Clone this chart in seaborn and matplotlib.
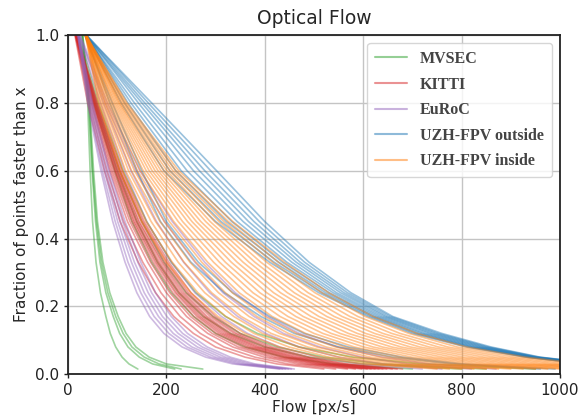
import matplotlib
matplotlib.use("Agg")
import matplotlib.pyplot as plt
from matplotlib.lines import Line2D
import seaborn as sns
import pandas as pd

# Fraction levels at which the flow value of each curve was read
levels = [1.0, 0.8, 0.6, 0.45, 0.33, 0.24, 0.17, 0.12, 0.08, 0.05, 0.03, 0.015]

datasets = ["MVSEC", "KITTI", "EuRoC", "UZH-FPV outside", "UZH-FPV inside"]
colors = ["#2ca02c", "#d62728", "#9467bd", "#1f77b4", "#ff7f0e"]

# Flow [px/s] where each curve crosses the fraction levels above
mvsec = [
    [28, 40, 45, 50, 57, 66, 77, 86, 97, 110, 124, 142],
    [30, 42, 49, 56, 65, 77, 92, 105, 122, 145, 172, 217],
    [30, 44, 52, 60, 71, 85, 102, 118, 138, 165, 200, 274],
    [29, 43, 50, 58, 68, 81, 97, 112, 130, 155, 185, 230],
    [18, 52, 95, 130, 170, 210, 255, 300, 360, 440, 540, 700],
    [20, 58, 105, 150, 195, 240, 295, 350, 425, 520, 640, 850],
    [19, 55, 100, 140, 182, 225, 275, 330, 400, 490, 600, 800],
    [22, 62, 112, 160, 210, 260, 320, 385, 470, 580, 720, 950],
]
kitti = [
    [14, 40, 74, 106, 143, 178, 215, 255, 300, 360, 425, 520],
    [15, 43, 79, 113, 152, 189, 228, 269, 317, 380, 447, 544],
    [15, 46, 85, 121, 162, 200, 241, 284, 335, 399, 469, 568],
    [16, 48, 88, 126, 168, 207, 249, 293, 346, 412, 483, 584],
    [16, 50, 91, 130, 173, 213, 256, 301, 355, 422, 495, 597],
    [16, 51, 94, 133, 177, 218, 262, 307, 363, 432, 505, 608],
    [16, 52, 96, 135, 180, 221, 266, 312, 369, 438, 512, 616],
    [17, 53, 97, 138, 183, 225, 270, 317, 375, 445, 519, 624],
    [17, 54, 99, 140, 186, 228, 275, 322, 381, 451, 527, 632],
    [17, 55, 101, 143, 190, 232, 279, 326, 386, 458, 534, 640],
    [17, 56, 103, 145, 193, 236, 283, 331, 392, 464, 541, 648],
    [17, 57, 105, 149, 197, 241, 289, 338, 400, 473, 551, 659],
    [18, 59, 107, 152, 201, 245, 294, 343, 407, 481, 560, 669],
    [18, 60, 110, 155, 205, 250, 300, 350, 415, 490, 570, 680],
]
euroc = [
    [20, 40, 67, 91, 116, 140, 166, 195, 232, 280, 335, 430],
    [20, 42, 70, 96, 122, 148, 175, 205, 242, 290, 344, 436],
    [21, 44, 74, 101, 129, 155, 184, 214, 252, 300, 353, 442],
    [21, 46, 77, 106, 135, 163, 192, 224, 263, 310, 362, 448],
    [22, 48, 81, 111, 142, 170, 201, 233, 273, 320, 371, 454],
    [22, 50, 84, 116, 148, 178, 210, 243, 283, 330, 380, 460],
    [24, 72, 128, 180, 235, 288, 345, 402, 470, 550, 640, 760],
    [23, 76, 138, 196, 258, 315, 378, 438, 512, 598, 690, 820],
    [25, 80, 146, 212, 278, 340, 405, 470, 548, 640, 735, 870],
    [22, 66, 115, 160, 210, 258, 312, 365, 430, 508, 595, 720],
]
uzh_outside = [
    [36, 108, 195, 300, 410, 510, 610, 700, 810, 930, 1050, 1250],
    [36, 115, 207, 311, 419, 517, 616, 707, 816, 933, 1053, 1253],
    [37, 122, 219, 322, 428, 524, 621, 713, 821, 937, 1057, 1257],
    [36, 128, 230, 333, 436, 531, 626, 720, 826, 940, 1060, 1260],
    [35, 135, 242, 344, 445, 539, 632, 726, 832, 943, 1063, 1263],
    [37, 143, 255, 356, 455, 546, 638, 734, 838, 947, 1067, 1267],
    [36, 150, 267, 367, 464, 554, 644, 740, 843, 950, 1070, 1270],
    [37, 156, 278, 378, 472, 561, 649, 747, 849, 953, 1073, 1273],
    [38, 163, 290, 389, 481, 568, 655, 753, 854, 957, 1077, 1277],
    [37, 170, 302, 400, 490, 575, 660, 760, 860, 960, 1080, 1280],
    [34, 90, 150, 200, 265, 335, 410, 480, 570, 680, 800, 990],
    [35, 85, 140, 188, 250, 318, 392, 460, 550, 660, 780, 960],
]
uzh_inside = [
    [36, 62, 105, 150, 200, 250, 305, 360, 430, 510, 600, 750],
    [35, 65, 111, 159, 212, 264, 321, 378, 449, 531, 623, 775],
    [37, 68, 117, 169, 224, 278, 337, 395, 468, 552, 645, 800],
    [36, 71, 123, 178, 236, 292, 352, 413, 487, 573, 668, 825],
    [35, 74, 129, 187, 248, 306, 368, 430, 506, 594, 690, 850],
    [37, 76, 135, 196, 260, 320, 384, 448, 525, 615, 713, 875],
    [36, 79, 141, 206, 272, 334, 400, 465, 544, 636, 735, 900],
    [38, 82, 147, 215, 284, 348, 415, 483, 563, 657, 758, 925],
    [36, 85, 153, 224, 296, 362, 431, 500, 582, 678, 780, 950],
    [35, 88, 159, 233, 308, 376, 447, 518, 601, 699, 803, 975],
    [37, 91, 165, 243, 320, 390, 463, 535, 620, 720, 825, 1000],
    [36, 94, 171, 252, 332, 404, 478, 553, 639, 741, 848, 1025],
    [35, 97, 177, 261, 344, 418, 494, 570, 658, 762, 870, 1050],
    [37, 100, 183, 270, 356, 432, 510, 588, 677, 783, 893, 1075],
    [36, 103, 189, 280, 368, 446, 526, 605, 696, 804, 915, 1100],
    [38, 105, 195, 289, 380, 460, 541, 623, 715, 825, 938, 1125],
    [36, 108, 201, 298, 392, 474, 557, 640, 734, 846, 960, 1150],
    [35, 111, 207, 307, 404, 488, 573, 658, 753, 867, 983, 1175],
    [37, 114, 213, 317, 416, 502, 589, 675, 772, 888, 1005, 1200],
    [36, 117, 219, 326, 428, 516, 604, 693, 791, 909, 1028, 1225],
    [36, 120, 225, 335, 440, 530, 620, 710, 810, 930, 1050, 1250],
]

groups = [mvsec, kitti, euroc, uzh_outside, uzh_inside]

rows = []
for name, curves in zip(datasets, groups):
    for ci, curve in enumerate(curves):
        for flow, frac in zip(curve, levels):
            rows.append({"dataset": name, "curve": f"{name}-{ci}", "flow": flow, "frac": frac})
df = pd.DataFrame(rows)

sns.set_style("whitegrid", {
    "axes.edgecolor": "#222222",
    "grid.color": "#c4c4c4",
    "xtick.bottom": True,
    "ytick.left": True,
})

fig = plt.figure(figsize=(5.84, 4.18), dpi=100)
ax = fig.add_axes([0.1164, 0.105, 0.8425, 0.811])

palette = dict(zip(datasets, colors))
sns.lineplot(data=df, x="flow", y="frac", hue="dataset", units="curve",
             estimator=None, sort=False, palette=palette, alpha=0.45,
             linewidth=1.2, legend=False, ax=ax, hue_order=datasets)

ax.set_xlim(0, 1000)
ax.set_ylim(0, 1.0)
ax.set_xticks([0, 200, 400, 600, 800, 1000])
ax.set_yticks([0.0, 0.2, 0.4, 0.6, 0.8, 1.0])
ax.tick_params(labelsize=11, length=3, width=1, colors="#222222")
for s in ax.spines.values():
    s.set_linewidth(1.3)
    s.set_color("#222222")
ax.grid(True, linewidth=1.0)

ax.set_title("Optical Flow", fontsize=13.5, pad=8)
ax.set_xlabel("Flow [px/s]", fontsize=11, labelpad=1)
ax.set_ylabel("Fraction of points faster than x", fontsize=11, labelpad=4)

handles = [Line2D([0], [0], color=c, alpha=0.5, lw=1.5) for c in colors]
leg = ax.legend(handles, datasets, loc="upper right", frameon=True,
                prop={"family": "Liberation Serif", "weight": "bold", "size": 11.5},
                labelspacing=0.6, handlelength=2.0, borderpad=0.5)
leg.get_frame().set_edgecolor("#cccccc")
for t in leg.get_texts():
    t.set_color("#444444")

fig.savefig("out.png", dpi=100)
